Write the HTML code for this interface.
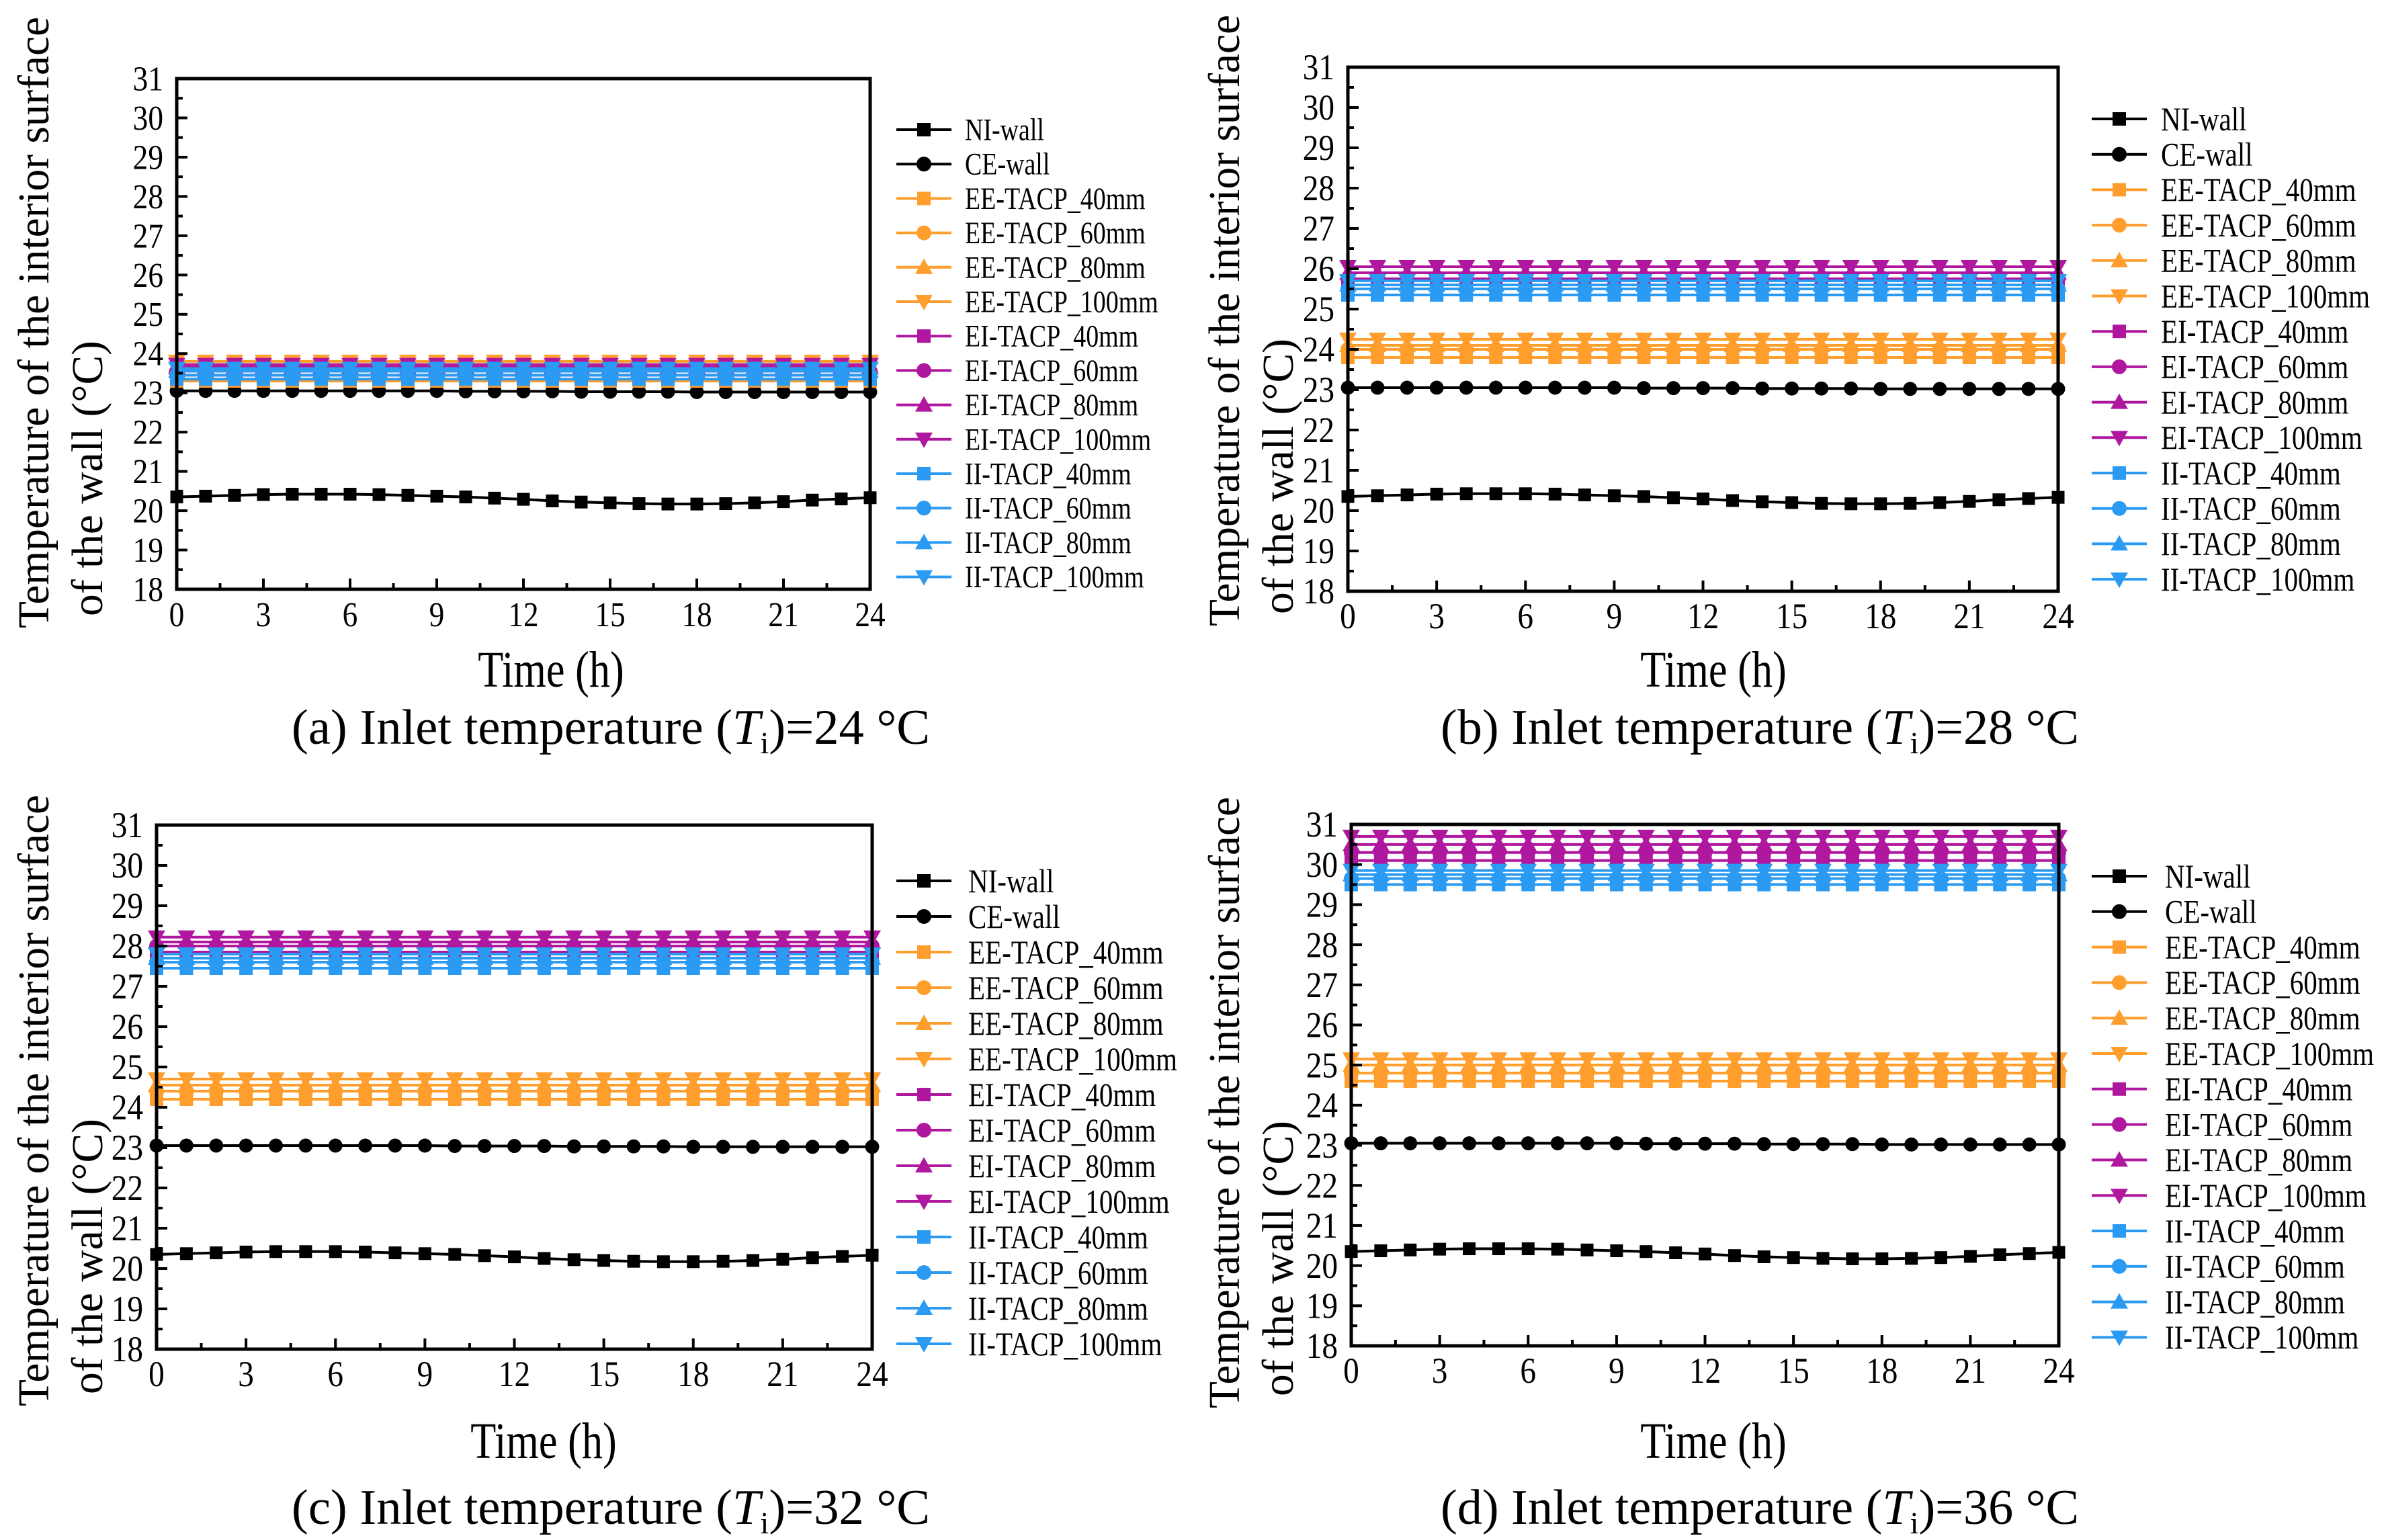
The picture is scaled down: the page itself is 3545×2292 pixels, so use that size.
<!DOCTYPE html>
<html><head><meta charset="utf-8">
<style>
html,body{margin:0;padding:0;background:#fff;}
svg{display:block;font-family:"Liberation Serif",serif;}
</style></head>
<body>
<svg id="fig" width="3545" height="2292" viewBox="0 0 3545 2292" xmlns="http://www.w3.org/2000/svg"></svg>
<script>
// ===== data =====
const hours = [0,1,2,3,4,5,6,7,8,9,10,11,12,13,14,15,16,17,18,19,20,21,22,23,24];
const xTicks = [0,3,6,9,12,15,18,21,24];
const yTicks = [18,19,20,21,22,23,24,25,26,27,28,29,30,31];
const niWall = [20.35,20.37,20.39,20.41,20.42,20.42,20.42,20.41,20.39,20.37,20.35,20.32,20.29,20.25,20.22,20.2,20.18,20.17,20.17,20.18,20.2,20.23,20.27,20.3,20.33];
const ceWall = [23.05,23.05,23.05,23.05,23.05,23.05,23.05,23.05,23.05,23.05,23.04,23.04,23.04,23.04,23.03,23.03,23.03,23.03,23.02,23.02,23.02,23.02,23.02,23.02,23.02];
const seriesNames = ["NI-wall","CE-wall","EE-TACP_40mm","EE-TACP_60mm","EE-TACP_80mm","EE-TACP_100mm","EI-TACP_40mm","EI-TACP_60mm","EI-TACP_80mm","EI-TACP_100mm","II-TACP_40mm","II-TACP_60mm","II-TACP_80mm","II-TACP_100mm"];
// flat levels (°C) for TACP series: 40,60,80,100 mm
const eeLevels_a = [23.3,23.55,23.7,23.8];
const eiLevels_a = [23.45,23.55,23.65,23.72];
const iiLevels_a = [23.35,23.45,23.55,23.62];
const eeLevels_b = [23.8,24.0,24.1,24.25];
const eiLevels_b = [25.6,25.75,25.9,26.05];
const iiLevels_b = [25.35,25.5,25.6,25.7];
const eeLevels_c = [24.2,24.4,24.55,24.7];
const eiLevels_c = [27.85,28.0,28.1,28.22];
const iiLevels_c = [27.45,27.6,27.7,27.8];
const eeLevels_d = [24.6,24.8,25.0,25.15];
const eiLevels_d = [30.1,30.3,30.5,30.7];
const iiLevels_d = [29.5,29.65,29.75,29.85];
const captions = ["a","b","c","d"];
const inletTemps = [24,28,32,36];

// ===== layout =====
const NS="http://www.w3.org/2000/svg";
const svg=document.getElementById('fig');
const panels=[
 {id:'a',L:263,R:1295,T:117,B:877,lx:1334,ltx:1436,ly:193,ld:51.2,lf:37,tf:46,yt1:50,yt2:132,ytc:469,xtx:820,xty:1022,cx:909,cy:1107,ee:eeLevels_a,ei:eiLevels_a,ii:iiLevels_a},
 {id:'b',L:2006,R:3063,T:100,B:880,lx:3113,ltx:3216,ly:177,ld:52.7,lf:40,tf:48,yt1:1822,yt2:1904,ytc:466,xtx:2550,xty:1022,cx:2619,cy:1107,ee:eeLevels_b,ei:eiLevels_b,ii:iiLevels_b},
 {id:'c',L:233,R:1298,T:1228,B:2008,lx:1334,ltx:1441,ly:1311,ld:53,lf:40,tf:48,yt1:50,yt2:132,ytc:1627,xtx:809,xty:2170,cx:909,cy:2268,ee:eeLevels_c,ei:eiLevels_c,ii:iiLevels_c},
 {id:'d',L:2011,R:3064,T:1227,B:2003,lx:3113,ltx:3222,ly:1304,ld:52.8,lf:40,tf:48,yt1:1822,yt2:1904,ytc:1630,xtx:2550,xty:2170,cx:2619,cy:2268,ee:eeLevels_d,ei:eiLevels_d,ii:iiLevels_d}
];
const colors={black:'#000',orange:'#FF9E2C',purple:'#B0179F',blue:'#2A9AF2'};
const shapes=['square','circle','up','down'];

function el(tag,attrs,parent){const e=document.createElementNS(NS,tag);for(const k in attrs)e.setAttribute(k,attrs[k]);(parent||svg).appendChild(e);return e;}
function ctext(parent,x,y,size,sx,anchor,extra){
  const a=Object.assign({x:0,y:0,'font-size':size,'text-anchor':anchor,transform:`translate(${x},${y}) scale(${sx},1)`},extra||{});
  return el('text',a,parent);
}
function marker(g,shape,x,y,c,s){
  let m;
  if(shape==='square') m=el('rect',{x:x-s/2,y:y-s/2,width:s,height:s,fill:c},g);
  else if(shape==='circle') m=el('circle',{cx:x,cy:y,r:s*0.55,fill:c},g);
  else if(shape==='up') m=el('polygon',{points:`${x},${y-s*0.65} ${x-s*0.65},${y+s*0.5} ${x+s*0.65},${y+s*0.5}`,fill:c},g);
  else m=el('polygon',{points:`${x},${y+s*0.65} ${x-s*0.65},${y-s*0.5} ${x+s*0.65},${y-s*0.5}`,fill:c},g);
  
  
  return m;
}

panels.forEach((p,pi)=>{
  const g=el('g',{});
  
  
  const xs=v=>p.L+(v-0)/(24-0)*(p.R-p.L);
  const ys=v=>p.B-(v-18)/(31-18)*(p.B-p.T);
  const series=[];
  series.push({name:seriesNames[0],c:colors.black,sh:'square',vals:niWall});
  series.push({name:seriesNames[1],c:colors.black,sh:'circle',vals:ceWall});
  [['ee',colors.orange],['ei',colors.purple],['ii',colors.blue]].forEach((grp,gi)=>{
    p[grp[0]].forEach((lv,k)=>{
      series.push({name:seriesNames[2+gi*4+k],c:grp[1],sh:shapes[k],vals:hours.map(()=>lv)});
    });
  });
  const plot=el('g',{},g);
  
  
  series.forEach(s=>{
    const sg=el('g',{},plot);
    
    
    const pts=hours.map((h,i)=>xs(h)+','+ys(s.vals[i])).join(' ');
    const pl=el('polyline',{points:pts,fill:'none',stroke:s.c,'stroke-width':4},sg);
    
    
    const ms=(s.c===colors.black)?19:20;
    hours.forEach((h,i)=>marker(sg,s.sh,xs(h),ys(s.vals[i]),s.c,ms));
  });
  const fr=el('rect',{x:p.L,y:p.T,width:p.R-p.L,height:p.B-p.T,fill:'none',stroke:'#000','stroke-width':5},g);
  
  
  for(let v=0;v<=24;v+=1.5){
    const major=(v%3===0);
    const t=el('line',{x1:xs(v),x2:xs(v),y1:p.B,y2:p.B-(major?16:9),stroke:'#000','stroke-width':4},g);
    
    
  }
  xTicks.forEach(v=>{
    const t=ctext(g,xs(v),p.B+55,p.tf*1.12,0.88,'middle');
    t.textContent=v;
    
    
  });
  for(let v=18;v<=31;v+=0.5){
    const major=(v%1===0);
    const t=el('line',{x1:p.L,x2:p.L+(major?16:9),y1:ys(v),y2:ys(v),stroke:'#000','stroke-width':4},g);
    
    
  }
  yTicks.forEach(v=>{
    const t=ctext(g,p.L-20,ys(v)+p.tf*0.38,p.tf*1.12,0.88,'end');
    t.textContent=v;
    
    
  });
  const yt=el('text',{'font-size':66,'text-anchor':'start',textLength:910,lengthAdjust:'spacingAndGlyphs',transform:`translate(${p.yt1+22},${p.ytc+466}) rotate(-90)`},g);
  yt.textContent='Temperature of the interior surface';
  
  
  const yt2=el('text',{'font-size':66,'text-anchor':'start',textLength:410,lengthAdjust:'spacingAndGlyphs',transform:`translate(${p.yt2+20},${p.ytc+448}) rotate(-90)`},g);
  yt2.textContent='of the wall (°C)';
  
  
  const xt=ctext(g,p.xtx,p.xty,76,0.82,'middle');
  xt.textContent='Time (h)';
  
  
  const cap=el('text',{x:p.cx,y:p.cy,'font-size':74,'text-anchor':'middle',textLength:950,lengthAdjust:'spacingAndGlyphs'},g);
  
  
  cap.appendChild(document.createTextNode('('+captions[pi]+') Inlet temperature ('));
  const ti=el('tspan',{'font-style':'italic'},cap);ti.textContent='T';
  const sub=el('tspan',{'font-size':46,dy:14},cap);sub.textContent='i';
  const rest=el('tspan',{dy:-14},cap);rest.textContent=')='+inletTemps[pi]+' °C';
  const lg=el('g',{},g);
  
  
  series.forEach((s,i)=>{
    const y=p.ly+i*p.ld;
    const eg=el('g',{},lg);
    
    
    el('line',{x1:p.lx,x2:p.lx+82,y1:y,y2:y,stroke:s.c,'stroke-width':4},eg);
    marker(eg,s.sh,p.lx+41,y,s.c,20);
    const t=ctext(eg,p.ltx,y+p.lf*0.42,p.lf*1.25,0.82,'start');
    t.textContent=s.name;
    
    
  });
});
</script>
</body></html>
